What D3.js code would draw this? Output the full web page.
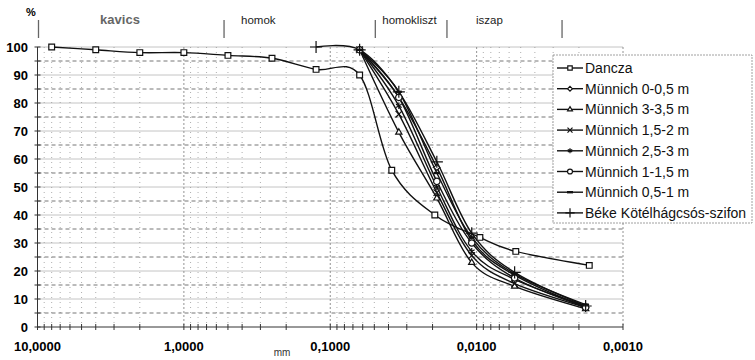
<!DOCTYPE html>
<html lang="hu">
<head>
<meta charset="utf-8">
<title>Szemeloszlás</title>
<script src="https://cdn.jsdelivr.net/npm/d3@7"></script>
<style>
  body { margin: 0; background: #fff; }
  text { font-family: "Liberation Sans", Arial, sans-serif; }
</style>
</head>
<body>
<script>
// grain size (mm) and passing (%)
var danczaSizes = [8, 4, 2, 1, 0.5, 0.25, 0.125, 0.063, 0.038, 0.0193, 0.0095, 0.0054, 0.0017];
var danczaValues = [100, 99, 98, 98, 97, 96, 92, 90, 56, 40, 32, 27, 22];

var munnichSizes = [0.063, 0.034, 0.0187, 0.0108, 0.0055, 0.0018];
var bekeSizes = [0.125, 0.063, 0.034, 0.0187, 0.0108, 0.0055, 0.0018];

var m0_05 = [99, 82, 57, 31, 18.5, 7];
var m3_35 = [99, 69.5, 46, 23, 14.5, 6.5];
var m15_2 = [99, 76, 48, 25.5, 15.5, 7];
var m25_3 = [99, 79, 50, 27, 17, 7.5];
var m1_15 = [99, 82, 52, 30, 17.5, 7];
var m05_1 = [99, 84, 55, 32, 19, 8];
var beke = [100, 99, 84, 59, 33.5, 19.5, 7.5];

var seriesNames = ["Dancza", "Münnich 0-0,5 m", "Münnich 3-3,5 m", "Münnich 1,5-2 m",
                   "Münnich 2,5-3 m", "Münnich 1-1,5 m", "Münnich 0,5-1 m", "Béke Kötélhágcsós-szifon"];

var xTicks = [10, 1, 0.1, 0.01, 0.001];
var xTickLabels = ["10,0000", "1,0000", "0,1000", "0,0100", "0,0010"];
var yTicks = [0, 10, 20, 30, 40, 50, 60, 70, 80, 90, 100];

var zoneNames = ["kavics", "homok", "homokliszt", "iszap"];
var zoneBounds = [10, 0.54, 0.05, 0.0162, 0.00265];

var w = 755, h = 360;
var svg = d3.select("body").append("svg").attr("width", w).attr("height", h);

var x = d3.scaleLog().domain([10, 0.001]).range([37.5, 623]);
var y = d3.scaleLinear().domain([0, 100]).range([327, 47]);

// grid
var grid = svg.append("g");
var minors = [];
[10, 1, 0.1, 0.01].forEach(function (dec) {
  for (var k = 2; k <= 9; k++) minors.push(dec / 10 * k);
});
grid.selectAll(".vmin").data(minors).enter().append("line")
  .attr("x1", function (d) { return x(d); }).attr("x2", function (d) { return x(d); })
  .attr("y1", y(100)).attr("y2", y(0))
  .attr("stroke", "#999").attr("stroke-width", 0.8).attr("stroke-dasharray", "1,4");
grid.selectAll(".vmaj").data(xTicks.slice(1)).enter().append("line")
  .attr("x1", function (d) { return x(d); }).attr("x2", function (d) { return x(d); })
  .attr("y1", y(100)).attr("y2", y(0))
  .attr("stroke", "#777").attr("stroke-width", 0.8).attr("stroke-dasharray", "2,2");
grid.selectAll(".h5").data(d3.range(5, 100, 10)).enter().append("line")
  .attr("x1", x(10)).attr("x2", x(0.001))
  .attr("y1", function (d) { return y(d); }).attr("y2", function (d) { return y(d); })
  .attr("stroke", "#666").attr("stroke-width", 0.9).attr("stroke-dasharray", "4,3");
grid.selectAll(".h10").data(yTicks.slice(1)).enter().append("line")
  .attr("x1", x(10)).attr("x2", x(0.001))
  .attr("y1", function (d) { return y(d); }).attr("y2", function (d) { return y(d); })
  .attr("stroke", "#888").attr("stroke-width", 1).attr("stroke-dasharray", "1,1");

// axes
svg.append("line").attr("x1", x(10)).attr("x2", x(0.001)).attr("y1", y(0)).attr("y2", y(0))
  .attr("stroke", "#333").attr("stroke-width", 1);
svg.append("line").attr("x1", x(10)).attr("x2", x(10)).attr("y1", y(0)).attr("y2", y(100))
  .attr("stroke", "#333").attr("stroke-width", 1);
svg.selectAll(".xt").data(minors.concat(xTicks)).enter().append("line")
  .attr("x1", function (d) { return x(d); }).attr("x2", function (d) { return x(d); })
  .attr("y1", y(0) - 3).attr("y2", y(0) + 3).attr("stroke", "#333");
svg.selectAll(".yt").data(d3.range(0, 101, 5)).enter().append("line")
  .attr("x1", x(10) - 3).attr("x2", x(10) + 3)
  .attr("y1", function (d) { return y(d); }).attr("y2", function (d) { return y(d); })
  .attr("stroke", "#333");

svg.selectAll(".ylab").data(yTicks).enter().append("text")
  .attr("x", 28).attr("y", function (d) { return y(d) + 4.5; })
  .attr("text-anchor", "end").attr("font-size", 13).attr("font-weight", "bold")
  .text(function (d) { return d; });
svg.selectAll(".xlab").data(xTicks).enter().append("text")
  .attr("x", function (d) { return x(d); }).attr("y", 351)
  .attr("text-anchor", "middle").attr("font-size", 13).attr("font-weight", "bold")
  .text(function (d, i) { return xTickLabels[i]; });
svg.append("text").attr("x", 282).attr("y", 356).attr("text-anchor", "middle")
  .attr("font-size", 10).attr("fill", "#333").text("mm");
svg.append("text").attr("x", 31).attr("y", 16).attr("text-anchor", "middle")
  .attr("font-size", 11).attr("font-weight", "bold").text("%");

// zone band
svg.selectAll(".zb").data(zoneBounds).enter().append("line")
  .attr("x1", function (d) { return x(d) + 1; }).attr("x2", function (d) { return x(d) + 1; })
  .attr("y1", 20).attr("y2", 38).attr("stroke", "#666").attr("stroke-width", 1.3);
svg.selectAll(".zn").data(zoneNames).enter().append("text")
  .attr("x", function (d, i) {
    if (i === 0) return 120;
    return x(zoneBounds[i]) + (i === 1 ? 18 : (i === 3 ? 30 : 8));
  })
  .attr("y", 24)
  .attr("text-anchor", function (d, i) { return i === 0 ? "middle" : "start"; })
  .attr("font-size", function (d, i) { return i === 0 ? 13 : 11.5; })
  .attr("font-weight", function (d, i) { return i === 0 ? "bold" : null; })
  .attr("fill", function (d, i) { return i === 0 ? "#666" : "#222"; })
  .attr("font-family", function (d, i) { return i === 0 ? "Liberation Serif, serif" : null; })
  .text(function (d) { return d; });

// series
var series = [
  { sizes: danczaSizes, values: danczaValues, sym: d3.symbolSquare2, size: 42 },
  { sizes: munnichSizes, values: m0_05, sym: d3.symbolDiamond2, size: 24 },
  { sizes: munnichSizes, values: m3_35, sym: d3.symbolTriangle2, size: 28 },
  { sizes: munnichSizes, values: m15_2, sym: d3.symbolTimes, size: 30 },
  { sizes: munnichSizes, values: m25_3, sym: d3.symbolAsterisk, size: 30 },
  { sizes: munnichSizes, values: m1_15, sym: d3.symbolCircle, size: 32 },
  { sizes: munnichSizes, values: m05_1, sym: "dash", size: 20 },
  { sizes: bekeSizes, values: beke, sym: d3.symbolPlus, size: 50 }
];

var line = d3.line()
  .x(function (d) { return x(d[0]); })
  .y(function (d) { return y(d[1]); })
  .curve(d3.curveCatmullRom.alpha(0));

function marker(g, s, cx, cy) {
  if (s.sym === "dash") {
    g.append("rect").attr("x", cx - 3).attr("y", cy - 1.2).attr("width", 6).attr("height", 2.4)
      .attr("fill", "#111");
    return;
  }
  g.append("path").attr("d", d3.symbol().type(s.sym).size(s.size)())
    .attr("transform", "translate(" + cx + "," + cy + ")")
    .attr("fill", "#fff").attr("stroke", "#111").attr("stroke-width", 1.2);
}

var plot = svg.append("g");
series.forEach(function (s) {
  var pts = s.sizes.map(function (d, i) { return [d, s.values[i]]; });
  plot.append("path").attr("d", line(pts)).attr("fill", "none")
    .attr("stroke", "#111").attr("stroke-width", 1.4);
});
series.forEach(function (s) {
  var g = plot.append("g");
  s.sizes.forEach(function (d, i) { marker(g, s, x(d), y(s.values[i])); });
});

// legend
var lg = svg.append("g");
lg.append("rect").attr("x", 553).attr("y", 55).attr("width", 199).attr("height", 168)
  .attr("fill", "#fff").attr("stroke", "#888").attr("stroke-width", 0.8).attr("stroke-dasharray", "2,1");
seriesNames.forEach(function (n, i) {
  var ry = 68 + i * 20.7;
  lg.append("line").attr("x1", 557).attr("x2", 583).attr("y1", ry).attr("y2", ry)
    .attr("stroke", "#111").attr("stroke-width", 1.4);
  var s = series[i];
  var ms = { sym: s.sym, size: s.size * 0.6 };
  marker(lg, ms, 570, ry);
  lg.append("text").attr("x", 585).attr("y", ry + 5).attr("font-size", 14)
    .attr("fill", "#111").text(n);
});
</script>
</body>
</html>
